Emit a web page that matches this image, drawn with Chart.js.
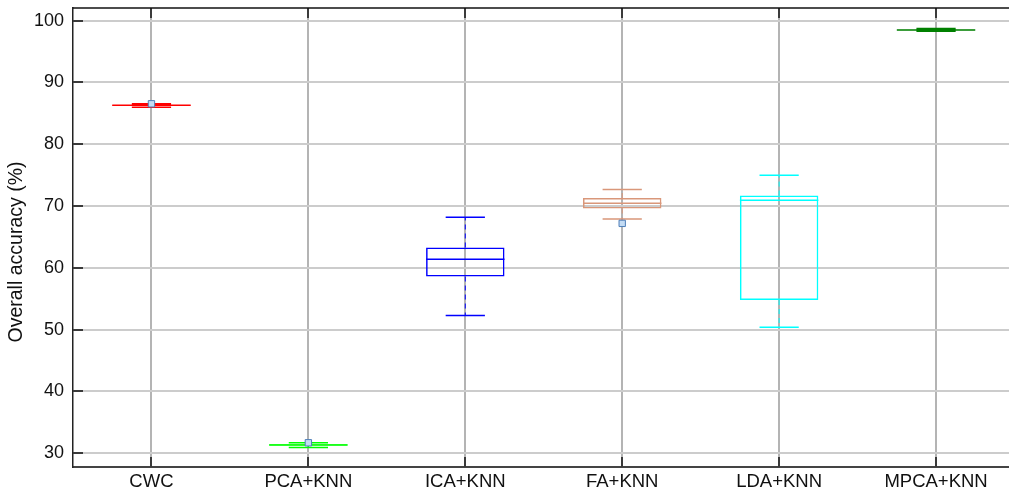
<!DOCTYPE html>
<html>
<head>
<meta charset="utf-8">
<script src="https://cdn.jsdelivr.net/npm/chart.js@4/dist/chart.umd.min.js"></script>
<style>
  html, body { margin: 0; padding: 0; background: #fff; overflow: hidden; }
  #wrap { position: relative; width: 1020px; height: 491px; }
</style>
</head>
<body>
<div id="wrap"><canvas id="c"></canvas></div>
<script>
// Methods compared
const categories = ['CWC', 'PCA+KNN', 'ICA+KNN', 'FA+KNN', 'LDA+KNN', 'MPCA+KNN'];

// Box-plot statistics of overall accuracy (%)
const whiskerLow  = [85.98, 30.95, 52.3, 67.9, 50.4, 98.3];
const quartile1   = [86.25, 31.25, 58.6, 69.6, 54.8, 98.45];
const median      = [86.3,  31.35, 61.4, 70.45, 70.95, 98.5];
const quartile3   = [86.35, 31.45, 63.3, 71.3, 71.7, 98.55];
const whiskerHigh = [86.55, 31.7, 68.2, 72.7, 75.0, 98.75];
const outliers    = [86.55, 31.7, null, 67.2, null, null];

const boxColors = ['#ff0000', '#00ff00', '#0000ff', '#d9977a', '#00ffff', '#008000'];

const yTicks = [30, 40, 50, 60, 70, 80, 90, 100];

const FONT = '"Liberation Sans", Arial, Helvetica, sans-serif';

// Whiskers, caps and medians, drawn right after the boxes
const whiskerPlugin = {
  id: 'whiskers',
  afterDatasetDraw(chart, args) {
    if (args.index !== 0) return;
    const ctx = chart.ctx;
    const x = chart.scales.x, y = chart.scales.y;
    const step = x.getPixelForValue(1) - x.getPixelForValue(0);
    const boxHalf = step * 0.25;
    const capHalf = step * 0.125;
    ctx.save();
    categories.forEach((c, i) => {
      const cx = x.getPixelForValue(i);
      ctx.strokeStyle = boxColors[i];
      // dashed whisker stems
      ctx.lineWidth = 1;
      ctx.setLineDash([5, 4]);
      ctx.beginPath();
      ctx.moveTo(cx, y.getPixelForValue(quartile3[i]));
      ctx.lineTo(cx, y.getPixelForValue(whiskerHigh[i]));
      ctx.moveTo(cx, y.getPixelForValue(quartile1[i]));
      ctx.lineTo(cx, y.getPixelForValue(whiskerLow[i]));
      ctx.stroke();
      ctx.setLineDash([]);
      // caps and median
      ctx.lineWidth = 1.5;
      ctx.beginPath();
      [whiskerHigh[i], whiskerLow[i]].forEach(v => {
        const py = y.getPixelForValue(v);
        ctx.moveTo(cx - capHalf, py);
        ctx.lineTo(cx + capHalf, py);
      });
      const my = y.getPixelForValue(median[i]);
      ctx.moveTo(cx - boxHalf, my);
      ctx.lineTo(cx + boxHalf, my);
      ctx.stroke();
    });
    ctx.restore();
  }
};

// Frame, inward tick marks and the vertical axis title
const framePlugin = {
  id: 'frame',
  afterDraw(chart) {
    const ctx = chart.ctx;
    const a = chart.chartArea;
    const x = chart.scales.x, y = chart.scales.y;
    ctx.save();
    ctx.strokeStyle = '#3a3a3a';
    ctx.lineWidth = 2;
    ctx.beginPath();
    yTicks.forEach(v => {
      const py = Math.round(y.getPixelForValue(v));
      ctx.moveTo(a.left, py);
      ctx.lineTo(a.left + 10, py);
    });
    categories.forEach((c, i) => {
      const px = Math.round(x.getPixelForValue(i));
      ctx.moveTo(px, a.bottom);
      ctx.lineTo(px, a.bottom - 10);
      ctx.moveTo(px, a.top);
      ctx.lineTo(px, a.top + 10);
    });
    ctx.stroke();
    ctx.strokeStyle = '#111';
    ctx.lineWidth = 1.5;
    ctx.beginPath();
    ctx.moveTo(a.left, a.top);
    ctx.lineTo(a.right, a.top);
    ctx.stroke();

    ctx.translate(17, 252);
    ctx.rotate(-Math.PI / 2);
    ctx.fillStyle = '#111';
    ctx.font = '19.5px ' + FONT;
    ctx.textAlign = 'center';
    ctx.textBaseline = 'middle';
    ctx.fillText('Overall accuracy (%)', 0, 0);
    ctx.restore();
  }
};

new Chart(document.getElementById('c'), {
  type: 'bar',
  data: {
    labels: categories,
    datasets: [
      {
        label: 'IQR',
        order: 1,
        data: quartile1.map((q, i) => [q, quartile3[i]]),
        backgroundColor: 'rgba(0,0,0,0)',
        borderColor: boxColors,
        borderWidth: 1.5,
        borderSkipped: false,
        barPercentage: 0.5,
        categoryPercentage: 1.0
      },
      {
        type: 'line',
        label: 'Outliers',
        order: 0,
        data: outliers,
        showLine: false,
        pointStyle: 'rect',
        pointRadius: 4.5,
        pointBorderWidth: 1,
        pointBackgroundColor: '#c4dcf4',
        pointBorderColor: '#4f7fb8'
      }
    ]
  },
  options: {
    responsive: true,
    maintainAspectRatio: false,
    animation: false,
    layout: { padding: { top: 8, right: 0, left: 0, bottom: 0 } },
    plugins: {
      legend: { display: false },
      tooltip: { enabled: false }
    },
    scales: {
      x: {
        offset: true,
        grid: {
          offset: false,
          color: '#b4b4b4',
          lineWidth: 2,
          drawTicks: false
        },
        border: { display: true, color: '#444', width: 2 },
        ticks: {
          color: '#111',
          padding: 4,
          font: { family: FONT, size: 18.5 },
          maxRotation: 0,
          autoSkip: false
        },
        afterFit(scale) {
          scale.height = 24;
          scale.paddingLeft = 0;
          scale.paddingRight = 0;
        }
      },
      y: {
        min: 27.78,
        max: 102.05,
        afterBuildTicks(scale) { scale.ticks = yTicks.map(v => ({ value: v })); },
        grid: {
          color: '#cccccc',
          lineWidth: 2,
          drawTicks: false
        },
        border: { display: true, color: '#222', width: 1.5 },
        ticks: {
          color: '#111',
          padding: 9,
          font: { family: FONT, size: 18 }
        },
        afterFit(scale) {
          scale.width = 73;
          scale.paddingTop = 0;
          scale.paddingBottom = 0;
        }
      }
    }
  },
  plugins: [whiskerPlugin, framePlugin]
});
</script>
</body>
</html>
